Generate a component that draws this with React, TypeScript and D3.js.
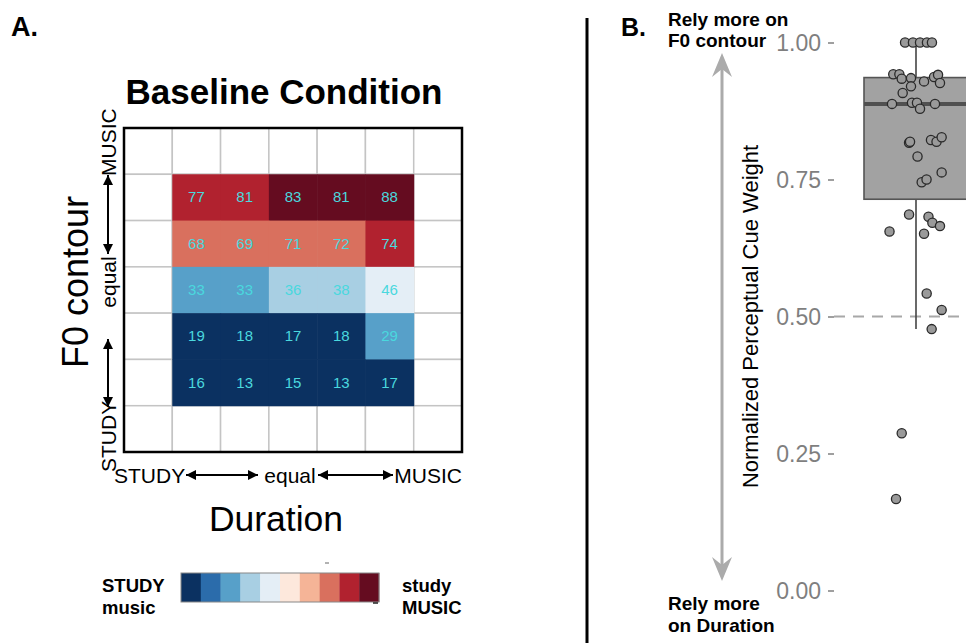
import { useEffect, useRef } from 'react';
import * as d3 from 'd3';

// heatmap (rows top -> bottom = F0 contour MUSIC -> STUDY, cols = Duration STUDY -> MUSIC)
const cellValues = [
  [77, 81, 83, 81, 88],
  [68, 69, 71, 72, 74],
  [33, 33, 36, 38, 46],
  [19, 18, 17, 18, 29],
  [16, 13, 15, 13, 17],
];
// colour level (0 = STUDY/music ... 9 = study/MUSIC)
const cellLevels = [
  [8, 8, 9, 9, 9],
  [7, 7, 7, 7, 8],
  [2, 2, 3, 3, 4],
  [0, 0, 0, 0, 2],
  [0, 0, 0, 0, 0],
];
const palette = ['#0b3161', '#2b6cab', '#57a0c9', '#a8cfe3', '#e4eef6', '#fde8dc', '#f5b497', '#d9705e', '#b1222f', '#650c20'];
const gridLevels = d3.range(7);

// panel B: boxplot + jittered points
const boxStats = { low: 0.477, q1: 0.714, median: 0.888, q3: 0.936, high: 1.0 };
const pointX = [
  0.921, 0.978, 1.029, 1.079, 1.115,
  0.836, 0.880, 0.897, 0.964, 0.964, 0.904, 1.058, 1.130, 1.159, 1.173,
  0.827, 0.971, 1.007, 1.029, 1.137,
  0.950, 0.957, 1.108, 1.148, 1.185, 1.011, 1.185, 1.041, 1.076,
  0.950, 1.090, 1.118, 1.173, 0.809, 1.058,
  1.077, 1.185, 1.113, 0.897, 0.856,
];
const pointY = [
  1.0, 1.0, 1.0, 1.0, 1.0,
  0.942, 0.942, 0.934, 0.935, 0.920, 0.908, 0.929, 0.937, 0.941, 0.926,
  0.888, 0.890, 0.890, 0.879, 0.888,
  0.817, 0.819, 0.822, 0.819, 0.827, 0.792, 0.763, 0.745, 0.750,
  0.686, 0.682, 0.671, 0.665, 0.655, 0.651,
  0.542, 0.512, 0.477, 0.287, 0.167,
];
const yTicks = [0, 0.25, 0.5, 0.75, 1.0];

const FONT = '"Liberation Sans", Arial, Helvetica, sans-serif';

const App = () => {
  const ref = useRef<SVGSVGElement | null>(null);

  useEffect(() => {
    if (!ref.current) return;
    const svg = d3.select(ref.current);
    svg.selectAll('*').remove();
    svg.style('font-family', FONT);

    const defs = svg.append('defs');
    defs.append('marker')
      .attr('id', 'tri').attr('viewBox', '0 0 10 10')
      .attr('refX', 10).attr('refY', 5)
      .attr('markerWidth', 11).attr('markerHeight', 10)
      .attr('markerUnits', 'userSpaceOnUse')
      .attr('orient', 'auto-start-reverse')
      .append('path').attr('d', 'M0,0 L10,5 L0,10 Z').attr('fill', '#000');

    // ---------- panel A ----------
    svg.append('text').attr('x', 11).attr('y', 36)
      .attr('font-size', 27).attr('font-weight', 'bold').text('A.');

    svg.append('text').attr('x', 284).attr('y', 104).attr('text-anchor', 'middle')
      .attr('font-size', 35).attr('font-weight', 'bold').text('Baseline Condition');

    const xb = d3.scaleBand<number>().domain(gridLevels).range([124, 462]);
    const yb = d3.scaleBand<number>().domain(gridLevels).range([128, 452]);
    const color = d3.scaleOrdinal<number, string>().domain(d3.range(10)).range(palette);

    const gA = svg.append('g');
    // background grid
    gridLevels.forEach(r => gridLevels.forEach(c => {
      gA.append('rect')
        .attr('x', xb(c)!).attr('y', yb(r)!)
        .attr('width', xb.bandwidth()).attr('height', yb.bandwidth())
        .attr('fill', 'white').attr('stroke', '#c4c4c4').attr('stroke-width', 1.5);
    }));

    const cells = cellValues.flatMap((row, i) => row.map((v, j) => ({ r: i + 1, c: j + 1, v, lvl: cellLevels[i][j] })));
    gA.selectAll('rect.cell').data(cells).enter().append('rect')
      .attr('class', 'cell')
      .attr('x', d => xb(d.c)!).attr('y', d => yb(d.r)!)
      .attr('width', xb.bandwidth() + 0.5).attr('height', yb.bandwidth() + 0.5)
      .attr('fill', d => color(d.lvl));
    gA.selectAll('text.val').data(cells).enter().append('text')
      .attr('class', 'val')
      .attr('x', d => xb(d.c)! + xb.bandwidth() / 2)
      .attr('y', d => yb(d.r)! + yb.bandwidth() / 2 + 5)
      .attr('text-anchor', 'middle').attr('font-size', 15)
      .attr('fill', '#4ad8de').text(d => d.v);

    gA.append('rect').attr('x', 124).attr('y', 128).attr('width', 338).attr('height', 324)
      .attr('fill', 'none').attr('stroke', '#000').attr('stroke-width', 2.5);

    // x-axis labels with arrows
    const xl = svg.append('g').attr('font-size', 21);
    xl.append('text').attr('x', 114).attr('y', 483).text('STUDY');
    xl.append('text').attr('x', 290).attr('y', 483).attr('text-anchor', 'middle').text('equal');
    xl.append('text').attr('x', 462).attr('y', 483).attr('text-anchor', 'end').text('MUSIC');
    [[186, 258], [318, 393]].forEach(([a, b]) => {
      xl.append('line').attr('x1', a).attr('x2', b).attr('y1', 475).attr('y2', 475)
        .attr('stroke', '#000').attr('stroke-width', 2)
        .attr('marker-start', 'url(#tri)').attr('marker-end', 'url(#tri)');
    });

    // y-axis labels with arrows (rotated)
    const yl = svg.append('g').attr('font-size', 21);
    yl.append('text').attr('transform', 'translate(116,472) rotate(-90)').text('STUDY');
    yl.append('text').attr('transform', 'translate(116,282) rotate(-90)').attr('text-anchor', 'middle').text('equal');
    yl.append('text').attr('transform', 'translate(116,176) rotate(-90)').text('MUSIC');
    [[407, 339], [254, 175]].forEach(([a, b]) => {
      yl.append('line').attr('x1', 108).attr('x2', 108).attr('y1', a).attr('y2', b)
        .attr('stroke', '#000').attr('stroke-width', 2)
        .attr('marker-start', 'url(#tri)').attr('marker-end', 'url(#tri)');
    });

    svg.append('text').attr('transform', 'translate(88,282) rotate(-90)').attr('text-anchor', 'middle')
      .attr('font-size', 36).text('F0 contour');
    svg.append('text').attr('x', 276).attr('y', 531).attr('text-anchor', 'middle')
      .attr('font-size', 35.5).text('Duration');

    // legend
    const lx = d3.scaleBand<number>().domain(d3.range(10)).range([181, 379]);
    const lg = svg.append('g');
    lg.selectAll('rect').data(d3.range(10)).enter().append('rect')
      .attr('x', d => lx(d)!).attr('y', 573).attr('width', lx.bandwidth() + 0.3).attr('height', 29)
      .attr('fill', d => color(d));
    lg.append('rect').attr('x', 181).attr('y', 573).attr('width', 198).attr('height', 29)
      .attr('fill', 'none').attr('stroke', '#888').attr('stroke-width', 1);
    lg.append('line').attr('x1', 325).attr('x2', 329).attr('y1', 563).attr('y2', 563).attr('stroke', '#666');
    lg.append('line').attr('x1', 373).attr('x2', 378).attr('y1', 603).attr('y2', 603).attr('stroke', '#222').attr('stroke-width', 1.5);
    const lt = svg.append('g').attr('font-size', 18.5).attr('font-weight', 'bold');
    lt.append('text').attr('x', 102).attr('y', 592).text('STUDY');
    lt.append('text').attr('x', 102).attr('y', 614).text('music');
    lt.append('text').attr('x', 402).attr('y', 592).text('study');
    lt.append('text').attr('x', 402).attr('y', 614).text('MUSIC');

    // divider
    svg.append('line').attr('x1', 587).attr('x2', 587).attr('y1', 18).attr('y2', 643)
      .attr('stroke', '#000').attr('stroke-width', 3);

    // ---------- panel B ----------
    svg.append('text').attr('x', 621).attr('y', 36)
      .attr('font-size', 25).attr('font-weight', 'bold').text('B.');

    const y = d3.scaleLinear().domain([0, 1]).range([590.5, 42.5]);
    const x = d3.scaleLinear().domain([0.25, 1.75]).range([812, 1020]);

    const gB = svg.append('g');

    gB.append('g').attr('transform', 'translate(834,0)')
      .call(d3.axisLeft(y).tickValues(yTicks).tickFormat(d3.format('.2f')).tickSize(6).tickPadding(7))
      .call(g => g.select('.domain').remove())
      .call(g => g.selectAll('line').attr('stroke', '#7f7f7f').attr('stroke-width', 1.5))
      .call(g => g.selectAll('text').attr('fill', '#7f7f7f').attr('font-size', 23).attr('font-family', FONT).attr('dy', '0.36em'));

    // reference line
    gB.append('line').attr('x1', 834).attr('x2', 966).attr('y1', y(0.5)).attr('y2', y(0.5))
      .attr('stroke', '#a8a8a8').attr('stroke-width', 2).attr('stroke-dasharray', '11,8');

    // whisker + box
    gB.append('line').attr('x1', x(1)).attr('x2', x(1)).attr('y1', y(boxStats.high)).attr('y2', y(boxStats.low))
      .attr('stroke', '#444').attr('stroke-width', 1.6);
    gB.append('rect')
      .attr('x', x(1 - 0.375)).attr('y', y(boxStats.q3))
      .attr('width', x(1.375) - x(1 - 0.375)).attr('height', y(boxStats.q1) - y(boxStats.q3))
      .attr('fill', '#a2a2a2').attr('stroke', '#555').attr('stroke-width', 1.6);
    gB.append('line').attr('x1', x(1 - 0.375)).attr('x2', x(1.375)).attr('y1', y(boxStats.median)).attr('y2', y(boxStats.median))
      .attr('stroke', '#505050').attr('stroke-width', 4);

    gB.selectAll('circle').data(pointY.map((v, i) => ({ v, j: pointX[i] }))).enter().append('circle')
      .attr('cx', d => x(d.j)).attr('cy', d => y(d.v)).attr('r', 4.6)
      .attr('fill', '#9a9a9a').attr('stroke', '#2a2a2a').attr('stroke-width', 1.3);

    // axis title
    svg.append('text').attr('transform', `translate(758,${y(0.5)}) rotate(-90)`).attr('text-anchor', 'middle')
      .attr('font-size', 22).text('Normalized Perceptual Cue Weight');

    // gray double arrow
    const ax = 722;
    svg.append('line').attr('x1', ax).attr('x2', ax).attr('y1', 62).attr('y2', 572)
      .attr('stroke', '#ababab').attr('stroke-width', 3);
    const head = (tip: number, dir: number) =>
      `M${ax},${tip} L${ax + 10},${tip + dir * 24} L${ax},${tip + dir * 16} L${ax - 10},${tip + dir * 24} Z`;
    svg.append('path').attr('d', head(53, 1)).attr('fill', '#ababab');
    svg.append('path').attr('d', head(581, -1)).attr('fill', '#ababab');

    const nb = svg.append('g').attr('font-size', 19).attr('font-weight', 'bold');
    nb.append('text').attr('x', 668).attr('y', 26).text('Rely more on');
    nb.append('text').attr('x', 668).attr('y', 47).text('F0 contour');
    nb.append('text').attr('x', 668).attr('y', 610).text('Rely more');
    nb.append('text').attr('x', 668).attr('y', 632).text('on Duration');
  }, []);

  return (
    <svg ref={ref} width={966} height={643} viewBox="0 0 966 643"
      style={{ position: 'absolute', left: 0, top: 0, background: 'white' }} />
  );
};

export default App;
